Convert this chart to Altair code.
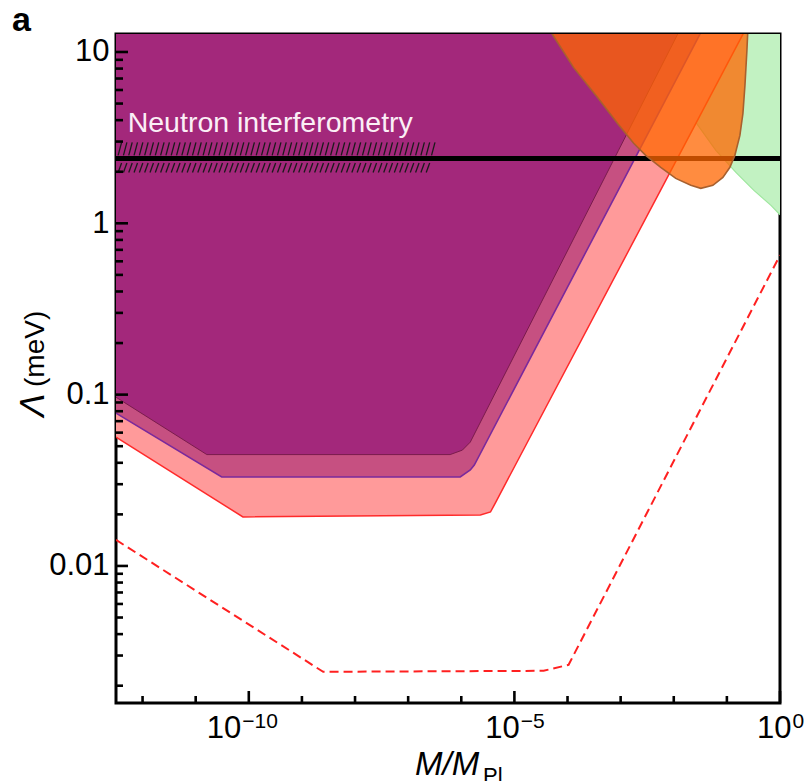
import altair as alt
import pandas as pd
import numpy as np

# ---- values (log10 of M/M_Pl and of Lambda in meV) ----
dark_lx = [-12.5, -10.79, -6.21, -5.98, -5.83, -3.04, -1.90]
dark_ly = [-1.015, -1.35, -1.35, -1.324, -1.277, 0.426, 1.12]
mid_lx = [-12.5, -10.51, -6.02, -5.83, -5.755, -2.77, -1.48]
mid_ly = [-1.108, -1.481, -1.481, -1.44, -1.411, 0.356, 1.12]
red_lx = [-12.5, -10.11, -5.64, -5.45, -5.36, -2.15, -0.67]
red_ly = [-1.248, -1.714, -1.703, -1.685, -1.633, 0.251, 1.12]
dash_lx = [-12.5, -8.6, -4.45, -3.98, 0.0]
dash_ly = [-1.848, -2.618, -2.612, -2.577, -0.186]
green_lx = [-2.925, -2.849, -2.245, -1.585, -1.208, -0.830, -0.491, -0.170, 0.0]
green_ly = [1.137, 1.102, 0.863, 0.589, 0.426, 0.297, 0.192, 0.105, 0.05]
orange_lx = [-4.358, -4.283, -3.887, -3.434, -3.057, -2.755, -2.528, -2.245, -1.962,
             -1.679, -1.491, -1.264, -1.075, -0.943, -0.849, -0.755, -0.698, -0.660,
             -0.623, -0.604]
orange_ly = [1.137, 1.102, 0.910, 0.735, 0.583, 0.467, 0.397, 0.327, 0.262,
             0.222, 0.204, 0.222, 0.268, 0.327, 0.397, 0.513, 0.641, 0.805,
             1.009, 1.137]
dark_energy = 2.39                  # meV, horizontal line
hatch_upper = [-12.5, -6.5, 0.397, 0.472]   # x from, x to, y from, y to (log10)
hatch_lower = [-12.5, -6.65, 0.297, 0.352]
neutron_label = "Neutron interferometry"

y_major = [0.01, 0.1, 1, 10]
x_major = [1e-10, 1e-5, 1.0]
x_exps = ["\u221210", "\u22125", "0"]

x_dom = [10 ** -12.5, 1.0]
y_dom = [10 ** -2.80, 10 ** 1.105]
TOP = 10 ** 1.3

FONT = "Liberation Sans"
W, H = 664, 669

xs = alt.Scale(type="log", domain=x_dom, nice=False)
ys = alt.Scale(type="log", domain=y_dom, nice=False)
yaxis = alt.Axis(values=y_major, format="~g", ticks=False, domain=False, grid=False,
                 labelFont=FONT, labelFontSize=31, labelColor="black",
                 labelPadding=7, title=None, labelOverlap=False)


def X(f):
    return alt.X(f, type="quantitative", scale=xs, axis=None)


def Y(f):
    return alt.Y(f, type="quantitative", scale=ys, axis=yaxis)


def curve(lx, ly):
    return pd.DataFrame({"x": 10 ** np.array(lx), "y": 10 ** np.array(ly), "top": TOP})


def region(lx, ly, fill, edge, ew, opacity=1.0):
    d = curve(lx, ly)
    a = alt.Chart(d).mark_area(color=fill, opacity=opacity, clip=True).encode(
        x=X("x"), y=Y("y"), y2=alt.Y2("top"))
    l = alt.Chart(d).mark_line(color=edge, strokeWidth=ew, clip=True).encode(
        x=X("x"), y=Y("y"))
    return [a, l]


layers = []
layers += region(green_lx, green_ly, "#C2F2C2", "#9EE69E", 1.2)
layers += region(red_lx, red_ly, "#FF9A9A", "#FF2A2A", 1.5)
layers += region(mid_lx, mid_ly, "#C65081", "#7A2A9C", 1.6)
layers += region(dark_lx, dark_ly, "#A3287B", "#7A1C4C", 1.0)

# dashed projected sensitivity
layers.append(alt.Chart(curve(dash_lx, dash_ly)).mark_line(
    color="#FF2020", strokeWidth=2, strokeDash=[9, 5], clip=True).encode(
    x=X("x"), y=Y("y")))

# hatched neutron interferometry band (two rows of slanted strokes)
for x0, x1, y0, y1 in (hatch_upper, hatch_lower):
    h_lx = np.arange(x0 + 0.04, x1, 0.1)
    hatch = pd.DataFrame({"x": 10 ** h_lx, "x2": 10 ** (h_lx + 0.065),
                          "y": 10 ** y0, "y2": 10 ** y1})
    layers.append(alt.Chart(hatch).mark_rule(color="#1A1A1A", strokeWidth=1.3, clip=True).encode(
        x=X("x"), x2="x2", y=Y("y"), y2="y2"))

# dark-energy line
layers.append(alt.Chart(pd.DataFrame({"y": [dark_energy]})).mark_rule(
    color="black", strokeWidth=5).encode(y=Y("y")))

# label
layers.append(alt.Chart(pd.DataFrame({"x": [10 ** -12.28], "y": [10 ** 0.531],
                                      "t": [neutron_label]})).mark_text(
    align="left", baseline="alphabetic", font=FONT, fontSize=28.5, color="#FBEFF6").encode(
    x=X("x"), y=Y("y"), text="t"))

# orange ellipse (semi-transparent, on top)
layers += region(orange_lx, orange_ly, "#FF6600", "#A8602E", 1.6, opacity=0.75)

# ---- ticks (inward) ----
y_minor = [k * 10.0 ** d for d in range(-3, 1) for k in range(2, 10)
           if y_dom[0] <= k * 10.0 ** d <= y_dom[1]]
x_minor = [10.0 ** d for d in range(-12, 0) if d not in (-10, -5)]
layers.append(alt.Chart(pd.DataFrame({"y": y_major})).mark_rule(
    color="black", strokeWidth=2.6).encode(y=Y("y"), x=alt.value(0), x2=alt.value(12)))
layers.append(alt.Chart(pd.DataFrame({"y": y_minor})).mark_rule(
    color="black", strokeWidth=2.6).encode(y=Y("y"), x=alt.value(0), x2=alt.value(7)))
layers.append(alt.Chart(pd.DataFrame({"x": x_major})).mark_rule(
    color="black", strokeWidth=2.6).encode(x=X("x"), y=alt.value(H), y2=alt.value(H - 12)))
layers.append(alt.Chart(pd.DataFrame({"x": x_minor})).mark_rule(
    color="black", strokeWidth=2.6).encode(x=X("x"), y=alt.value(H), y2=alt.value(H - 7)))

# ---- x tick labels: 10 with superscript exponent ----
BASE_FS, EXP_FS = 31, 21
base_w = 1.112 * BASE_FS
for v, e in zip(x_major, x_exps):
    exp_w = sum(0.584 if c == "\u2212" else 0.556 for c in e) * EXP_FS
    off = (base_w - exp_w) / 2
    if len(e) > 2:
        off -= 7
    d = pd.DataFrame({"x": [v], "b": ["10"], "e": [e]})
    layers.append(alt.Chart(d).mark_text(align="right", baseline="alphabetic", dx=off,
                                         font=FONT, fontSize=BASE_FS, color="black").encode(
        x=X("x"), y=alt.value(H + 35), text="b"))
    layers.append(alt.Chart(d).mark_text(align="left", baseline="alphabetic", dx=off + 1,
                                         font=FONT, fontSize=EXP_FS, color="black").encode(
        x=X("x"), y=alt.value(H + 25), text="e"))

# ---- axis titles and panel letter ----
def txt(s, x, y, size, **kw):
    return alt.Chart(pd.DataFrame({"t": [s]})).mark_text(
        font=FONT, fontSize=size, color="black", baseline="alphabetic", **kw).encode(
        x=alt.value(x), y=alt.value(y), text="t")


layers.append(txt("M/M", 299, 741, 33, align="left", fontStyle="italic"))
layers.append(txt("Pl", 367, 749, 22, align="left"))
layers.append(txt("\u039b", -72, 383, 35, align="left", angle=270, fontStyle="italic"))
layers.append(txt("(meV)", -72, 353, 28, align="left", angle=270))
layers.append(txt("a", -104, -3, 34, align="left", fontWeight="bold"))

chart = alt.layer(*layers).properties(
    width=W, height=H,
    padding={"left": 116, "top": 34, "right": 29, "bottom": 78},
    autosize=alt.AutoSizeParams(type="none"),
    background="white",
).configure_view(stroke="black", strokeWidth=3)

chart.save("out.html", embed_options={"renderer": "svg", "actions": False})
